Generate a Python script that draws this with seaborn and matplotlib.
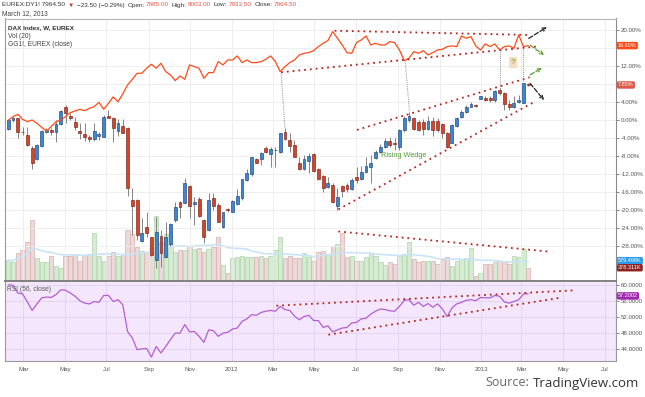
import pandas as pd
import matplotlib
matplotlib.use("Agg")
import matplotlib.pyplot as plt
import matplotlib.dates as mdates
import matplotlib.ticker as mticker
import seaborn as sns

## Data (weekly bars, % change vs. first close)
first_week = "2011-02-07"

dax_open = [-2.0, 0.0, 0.44, -2.6, -3.26, -6.08, -8.67, -5.71, -2.52, -2.15,
            -2.52, -0.89, 2.88, 0.96, -0.45, -2.3, -3.12, -3.71, -4.23, -3.41,
            -3.63, 0.96, 0.44, -2.3, -1.26, -1.78, -17.71, -17.71, -26.75, -23.64,
            -26.0, -31.04, -25.71, -30.3, -27.49, -22.16, -18.23, -18.3, -14.6, -18.67,
            -17.49, -22.16, -24.38, -17.34, -18.82, -23.79, -19.9, -20.3, -18.6, -17.33,
            -13.26, -12.0, -8.66, -8.66, -6.07, -7.55, -6.66, -7.11, -2.66, -4.37,
            -5.48, -9.4, -10.89, -8.96, -7.55, -10.81, -12.37, -14.74, -14.37, -18.96,
            -14.59, -14.37, -15.33, -12.66, -13.11, -11.4, -10.4, -8.44, -6.96, -6.0,
            -4.59, -4.96, -5.85, -2.14, 0.08, 0.52, -0.37, -0.37, -2.0, -0.14,
            -0.14, -0.89, -2.89, -4.96, -1.26, 0.67, 1.78, 3.04, 3.26, 4.82,
            5.04, 4.96, 4.52, 6.74, 6.15, 3.63, 3.04, 4.15, 3.93, 8.13]
dax_high = [0.22, 0.8, 0.6, -1.41, -1.41, -5.71, -5.3, -2.15, -1.78, -1.78,
            0.07, 2.2, 3.4, 1.55, 0.81, -0.67, -0.67, -3.26, -0.67, -2.52,
            1.18, 2.29, 0.81, 0.22, 0.22, -1.6, -14.97, -17.56, -21.8, -20.45,
            -25.86, -21.41, -24.38, -22.5, -22.9, -18.08, -17.93, -12.75, -14.38, -16.97,
            -17.12, -22.01, -16.23, -16.23, -18.45, -20.3, -19.56, -17.71, -15.34, -12.96,
            -10.89, -8.07, -8.44, -6.96, -5.7, -5.85, -5.85, -2.74, -1.77, -2.89,
            -4.37, -8.07, -7.7, -7.33, -7.33, -10.66, -12.14, -12.51, -14.0, -15.11,
            -14.37, -14.0, -12.89, -10.29, -10.14, -8.07, -7.7, -6.59, -5.26, -4.0,
            -3.63, -4.0, -2.0, 0.97, 1.93, 0.82, 0.08, 0.37, 0.97, 0.82,
            0.45, -0.66, -2.51, -0.81, 0.82, 2.3, 3.41, 4.15, 3.63, 5.48,
            5.41, 5.41, 6.74, 7.11, 6.37, 4.52, 5.41, 5.63, 8.37, 8.37]
dax_low = [-2.15, -0.3, -4.0, -3.26, -5.71, -10.89, -8.8, -5.86, -2.89, -3.26,
           -4.75, -1.0, -0.67, 0.07, -2.15, -4.15, -4.52, -4.75, -4.52, -4.38,
           -3.78, 0.44, -4.75, -3.49, -2.89, -16.8, -25.49, -26.5, -26.97, -25.86,
           -30.15, -32.9, -32.5, -30.5, -27.93, -22.53, -21.78, -18.45, -21.78, -23.27,
           -21.41, -27.19, -24.53, -19.93, -22.53, -24.0, -20.3, -20.45, -18.82, -17.7,
           -13.4, -12.37, -9.55, -9.92, -7.33, -10.29, -10.29, -7.18, -4.37, -6.96,
           -8.2, -11.03, -11.03, -11.77, -11.4, -13.26, -15.85, -15.11, -18.29, -19.92,
           -16.96, -15.85, -15.48, -14.0, -13.26, -11.77, -14.0, -8.66, -7.18, -6.22,
           -5.85, -6.59, -6.59, -2.51, -0.29, -2.14, -2.37, -3.26, -2.14, -3.48,
           -2.51, -4.0, -6.22, -5.11, -1.4, 0.45, 1.56, 2.89, 3.04, 4.67,
           4.3, 4.15, 4.15, 5.63, 2.3, 2.3, 2.67, 3.78, 3.78, 7.6]
dax_close = [0.0, 0.5, -2.67, -2.7, -5.49, -9.41, -5.49, -2.37, -2.15, -2.52,
             -0.89, 2.07, 1.55, 0.44, -1.56, -2.89, -3.78, -4.23, -2.37, -3.12,
             0.81, 0.59, -1.78, -0.52, -2.74, -15.1, -18.97, -25.49, -25.12, -24.97,
             -29.93, -24.75, -29.56, -26.0, -23.04, -19.34, -19.19, -14.01, -19.04, -18.08,
             -21.27, -25.86, -17.71, -18.97, -22.53, -20.45, -19.93, -17.93, -16.82, -13.11,
             -11.63, -8.22, -9.4, -7.33, -6.96, -6.29, -6.59, -2.89, -4.22, -5.7,
             -8.07, -10.89, -8.66, -7.92, -11.18, -13.11, -15.11, -14.0, -18.07, -16.96,
             -15.63, -15.26, -13.26, -13.26, -11.4, -10.07, -9.4, -6.96, -5.85, -4.59,
             -5.48, -5.26, -2.14, 0.45, 1.04, -1.92, -2.14, -2.0, -0.14, -2.14,
             -2.14, -2.89, -5.85, -1.03, 0.6, 1.78, 2.89, 3.56, 3.19, 5.33,
             4.52, 4.45, 6.52, 6.15, 3.63, 2.89, 3.78, 4.52, 8.23, 7.85]

# volume, thousands of contracts
volume_k = [599, 551, 808, 884, 1102, 1739, 665, 551, 551, 713,
            428, 380, 722, 713, 760, 580, 741, 760, 1359, 713,
            580, 713, 817, 713, 770, 1454, 1330, 960, 855, 836,
            950, 1853, 1121, 1330, 1045, 836, 884, 884, 998, 903,
            931, 817, 903, 960, 1245, 456, 219, 665, 694, 713,
            694, 694, 684, 713, 665, 713, 884, 1245, 665, 713,
            665, 646, 789, 694, 580, 817, 855, 760, 998, 1045,
            1359, 675, 713, 580, 570, 675, 808, 713, 532, 456,
            532, 485, 722, 760, 1121, 627, 532, 570, 570, 570,
            475, 627, 675, 428, 570, 627, 665, 931, 152, 219,
            475, 485, 532, 570, 551, 485, 713, 694, 903, 378]

# GG1! (Bund future) close, % vs first close
gg1_pct = [0.0, 0.81, 1.33, 0.22, -0.3, 0.07, -0.67, -1.56, -2.37, -1.41,
           -0.3, 0.07, 0.81, 1.7, 2.07, 2.44, 2.14, 2.66, 3.03, 4.0,
           2.44, 3.77, 5.2, 4.1, 5.86, 7.86, 9.1, 10.45, 10.45, 11.56,
           12.45, 11.56, 12.67, 10.82, 10.08, 8.82, 9.86, 9.1, 12.3, 11.93,
           11.56, 9.34, 10.6, 10.6, 13.04, 12.3, 13.41, 13.41, 14.3, 12.82,
           13.41, 12.82, 12.82, 13.04, 13.56, 14.3, 13.04, 10.82, 11.93, 12.82,
           13.41, 14.52, 14.89, 15.04, 15.49, 16.37, 17.11, 17.71, 19.71, 18.23,
           16.74, 15.04, 14.89, 17.26, 17.86, 18.74, 16.74, 17.11, 16.74, 16.74,
           17.49, 17.26, 15.63, 13.26, 13.78, 15.26, 14.89, 15.49, 14.52, 15.04,
           15.63, 15.78, 16.37, 16.52, 16.37, 18.74, 18.23, 18.6, 16.52, 15.63,
           16.97, 16.37, 16.97, 15.63, 16.37, 16.52, 16.0, 18.97, 16.37, 16.6]

rsi56 = [59.95, 59.8, 57.9, 57.65, 55.7, 53.6, 55.2, 56.7, 56.9, 56.8,
         57.5, 58.7, 58.6, 57.9, 57.1, 56.0, 55.4, 55.2, 55.8, 55.6,
         57.3, 57.3, 55.8, 56.25, 55.0, 48.4, 46.8, 43.9, 44.1, 44.2,
         42.1, 44.7, 43.1, 44.7, 46.4, 48.0, 48.0, 50.1, 48.3, 48.4,
         47.2, 45.7, 48.8, 48.6, 47.2, 48.0, 48.2, 49.0, 49.25, 50.9,
         51.5, 52.55, 52.4, 53.1, 53.4, 53.6, 53.4, 54.6, 53.8, 53.6,
         52.2, 51.3, 52.1, 52.4, 51.1, 51.1, 49.4, 49.8, 48.3, 48.8,
         49.25, 49.4, 50.5, 50.65, 51.5, 51.7, 52.7, 53.4, 53.95, 53.8,
         53.5, 53.4, 54.6, 56.1, 56.25, 54.9, 55.6, 54.6, 55.3, 54.4,
         55.2, 54.0, 52.1, 54.2, 55.2, 55.6, 56.1, 56.25, 56.0, 56.8,
         56.7, 56.7, 57.3, 57.1, 55.7, 55.4, 55.8, 56.25, 57.65, 57.7]

# header pieces (text, colour)
header = [("EUREX:DY1! 7964.50", "#333333"), ("\u25bc", "#c0392b"),
          ("\u221223.50 (\u22120.29%)", "#333333"),
          ("Open:", "#333333"), ("7985.00", "#e0574a"),
          ("High:", "#333333"), ("8003.00", "#e0574a"),
          ("Low:", "#333333"), ("7933.50", "#e0574a"),
          ("Close:", "#333333"), ("7964.50", "#e0574a")]

# drawings: (bar index start, value, bar index end, value)
price_trendlines = [(68.4, 19.9, 109.1, 18.97),
                    (57.2, 10.67, 110.8, 16.4),
                    (73.1, -2.14, 109.3, 9.56),
                    (69.2, -19.8, 110.0, 3.93),
                    (69.2, -24.7, 113.6, -29.2)]
connectors = [(57.2, 10.45, 58.0, -1.77),
              (83.2, 13.26, 84.1, 1.93),
              (103.1, 15.78, 103.1, 6.74),
              (108.0, 16.0, 108.0, 8.6)]
arrows = [(109.1, 18.2, 112.9, 20.7, "#222222"),
          (109.4, 16.7, 112.3, 14.5, "#5a9e2f"),
          (109.4, 10.1, 111.9, 11.6, "#5a9e2f"),
          (109.4, 8.2, 112.3, 4.5, "#222222")]
rsi_trendlines = [(56.2, 54.77, 118.5, 58.55),
                  (67.1, 47.6, 116.1, 56.8)]


sns.set_theme(style="white")
plt.rcParams['font.family'] = ['Liberation Sans', 'DejaVu Sans']

dates = pd.date_range(first_week, periods=len(dax_close), freq="7D")
df = pd.DataFrame({"date": dates, "open": dax_open, "high": dax_high, "low": dax_low,
                   "close": dax_close, "vol": volume_k, "gg1": gg1_pct, "rsi": rsi56})
df["vol_ma"] = df["vol"].rolling(20, min_periods=1).mean()
up = df["close"] >= df["open"]


def wk(i):
    return pd.Timestamp(first_week) + pd.Timedelta(days=7 * i)


W, H = 645, 397
fig = plt.figure(figsize=(W / 100, H / 100), dpi=100)
fig.patch.set_facecolor("white")
ax = fig.add_axes([5 / W, (H - 281) / H, 611 / W, 262.5 / H])
axv = ax.twinx()
axr = fig.add_axes([5 / W, (H - 361) / H, 611 / W, 79 / H], sharex=ax)
ax.set_zorder(3)
axv.set_zorder(2)
ax.patch.set_visible(False)

# volume
vcol = ["#d5ebd2" if u else "#ecd9d9" for u in up]
ecol = ["#aed4a9" if u else "#d8b0b0" for u in up]
axv.bar(df["date"], df["vol"], width=6.3, color=vcol, edgecolor=ecol, linewidth=0.5)
sns.lineplot(x=df["date"], y=df["vol_ma"], ax=axv, color="#c9e4f7", lw=1.2, legend=False)
axv.set_ylim(0, 28.5 * 262.5)
axv.set_yticks([])
axv.set_ylabel("")
for s in axv.spines.values():
    s.set_visible(False)

# candles
ax.vlines(df["date"], df["low"], df["high"], color="#707070", lw=0.6, zorder=3)
body = (df["close"] - df["open"]).abs().clip(lower=0.15)
bottom = df[["open", "close"]].min(axis=1)
ax.bar(df["date"][up], body[up], bottom=bottom[up], width=4.2, color="#3c86d8",
       edgecolor="#1f4270", linewidth=0.45, zorder=4)
ax.bar(df["date"][~up], body[~up], bottom=bottom[~up], width=4.2, color="#d5432a",
       edgecolor="#7a2415", linewidth=0.45, zorder=4)

# GG1! line
sns.lineplot(x=df["date"], y=df["gg1"], ax=ax, color="#ff4a17", lw=0.9, legend=False, zorder=5)

# drawings
for a, p0, b, p1 in price_trendlines:
    ax.plot([wk(a), wk(b)], [p0, p1], color="#b3261e", lw=1.3, ls=(0, (1, 2.2)), zorder=6)
for a, p0, b, p1 in connectors:
    ax.plot([wk(a), wk(b)], [p0, p1], color="#8a8a8a", lw=0.7, ls=(0, (1, 1.2)), zorder=6)
for a, p0, b, p1, c in arrows:
    ax.annotate("", xy=(wk(b), p1), xytext=(wk(a), p0), zorder=7,
                arrowprops=dict(arrowstyle="->", color=c, lw=0.9, ls="--",
                                shrinkA=0, shrinkB=0, mutation_scale=6))
ax.text(wk(105.8), 12.8, "?", color="#5a9e2f", fontsize=6, ha="center", va="center",
        bbox=dict(fc="#f8dcc0", ec="none", pad=1.4), zorder=7)
ax.text(wk(78.2), -7.9, "Rising Wedge", color="#5b9a3b", fontsize=5.3, va="center", zorder=7)

ax.set_ylim(-35.71, 22.62)
ax.set_xlim(wk(-0.69), wk(127.4))
ax.set_yticks(range(-28, 21, 4))
# 16% and 8% are hidden under the last-value badges
ax.yaxis.set_major_formatter(mticker.FuncFormatter(
    lambda v, pos: "" if round(v) in (16, 8) else "%.2f%%" % v))
ax.yaxis.tick_right()
ax.tick_params(axis="y", labelsize=4.4, colors="#555555", length=2, width=0.5, pad=1.5,
               right=True, left=False, labelright=True, labelleft=False)
ax.tick_params(axis="x", length=0, labelbottom=False)
ax.grid(True, color="#ebebeb", lw=0.6)
ax.set_axisbelow(True)
ax.set_xlabel("")
ax.set_ylabel("")
for side, c, w in [("top", "#b5b5b5", 0.8), ("left", "#9a9a9a", 0.8),
                   ("right", "#8a8a8a", 0.8), ("bottom", "#777777", 1.3)]:
    ax.spines[side].set_color(c)
    ax.spines[side].set_linewidth(w)


def badge(axis, val, txt, col):
    axis.annotate(txt, xy=(1, val), xycoords=("axes fraction", "data"), xytext=(1.4, 0),
                  textcoords="offset points", ha="left", va="center", fontsize=4.0,
                  color="white", annotation_clip=False, zorder=10,
                  bbox=dict(boxstyle="round,pad=0.22,rounding_size=0.3", fc=col, ec="none"))


badge(ax, gg1_pct[-1], "16.60%", "#ff4a17")
badge(ax, dax_close[-1], "7.85%", "#dc5849")
badge(axv, 579.498, "579.498K", "#2b9bea")
badge(axv, 378.311, "378.311K", "#8e2323")

# RSI panel
axr.set_facecolor("#f4e6fc")
sns.lineplot(x=df["date"], y=df["rsi"], ax=axr, color="#b25ed2", lw=0.9, legend=False, zorder=4)
for a, r0, b, r1 in rsi_trendlines:
    axr.plot([wk(a), wk(b)], [r0, r1], color="#b3261e", lw=1.3, ls=(0, (1, 2.2)), zorder=5)
axr.set_ylim(41.11, 60.62)
axr.set_yticks([44, 48, 52, 56, 60])
axr.yaxis.set_major_formatter(mticker.FormatStrFormatter("%.4f"))
axr.yaxis.tick_right()
axr.tick_params(axis="y", labelsize=4.4, colors="#555555", length=2, width=0.5, pad=1.5,
                right=True, left=False, labelright=True, labelleft=False)
axr.grid(True, color="#e2d2ee", lw=0.6)
axr.set_axisbelow(True)
axr.set_xlabel("")
axr.set_ylabel("")
axr.spines["top"].set_visible(False)
for side in ["left", "right", "bottom"]:
    axr.spines[side].set_color("#9a9a9a")
    axr.spines[side].set_linewidth(0.8)
badge(axr, 57.2002, "57.2002", "#a126b0")

axr.xaxis.set_major_locator(mdates.MonthLocator(bymonth=[1, 3, 5, 7, 9, 11]))
axr.xaxis.set_major_formatter(mticker.FuncFormatter(
    lambda x, pos: mdates.num2date(x).strftime("%Y" if mdates.num2date(x).month == 1 else "%b")))
axr.tick_params(axis="x", labelsize=4.4, colors="#555555", length=0, pad=4)


# texts
def ftext(xp, yp, s, **kw):
    return fig.text(xp / W, 1 - yp / H, s, va="center", ha=kw.pop("ha", "left"), **kw)


renderer = fig.canvas.get_renderer()
xp = 1.5
for i, (s, c) in enumerate(header):
    t = ftext(xp, 5, s, fontsize=4.6, color=c)
    xp += t.get_window_extent(renderer).width + (1.0 if c == "#333333" and s.endswith(":") else 3.0)

ftext(2, 13.5, "March 12, 2013", fontsize=4.8, color="#444444")
ftext(8, 27.3, "DAX Index, W, EUREX", fontsize=4.6, color="#333333", fontweight="bold")
ftext(8, 36, "Vol (20)", fontsize=4.8, color="#444444")
ftext(8, 44.3, "GG1!, EUREX (close)", fontsize=4.8, color="#444444")
ftext(7, 289.7, "RSI (56, close)", fontsize=4.8, color="#555555")
tv = ftext(639, 383, "TradingView.com", fontsize=9.5, color="#333333", ha="right", family="Open Sans")
tv_left = tv.get_window_extent(renderer).x0
ftext(tv_left - 3, 383, "Source:", fontsize=9, color="#666666", ha="right", family="Open Sans")

fig.savefig("out.png", dpi=100, facecolor="white")
